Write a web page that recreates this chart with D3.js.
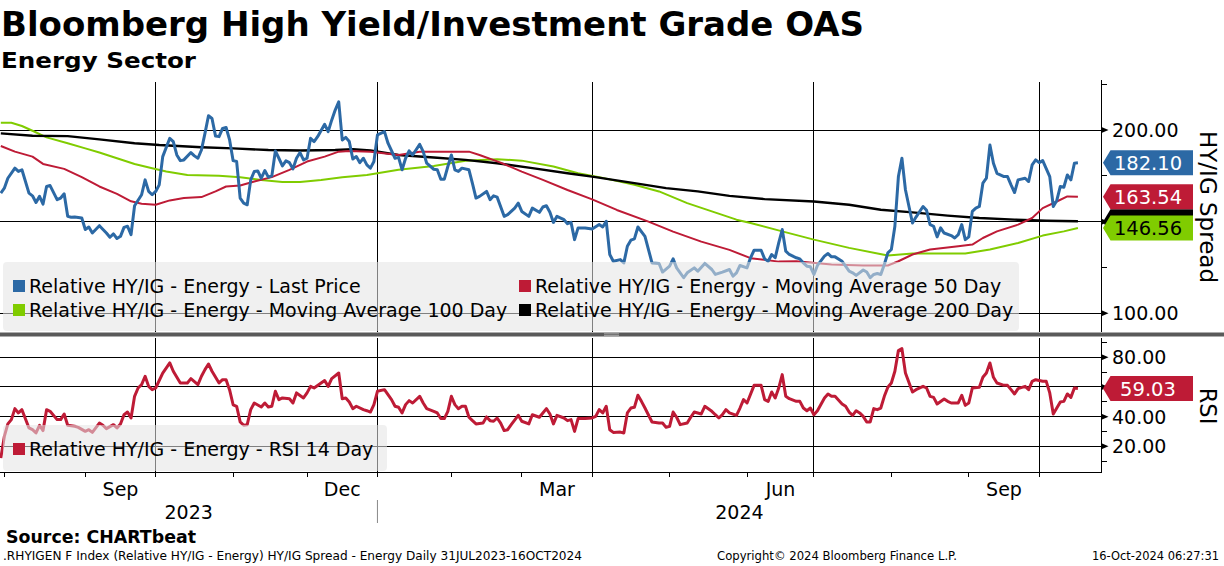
<!DOCTYPE html>
<html><head><meta charset="utf-8">
<script src="https://cdn.jsdelivr.net/npm/d3@7/dist/d3.min.js"></script>
<style>body{margin:0;background:#fff;overflow:hidden}svg{display:block;font-family:"DejaVu Sans",Verdana,sans-serif}</style>
</head><body><svg id="c" width="1224" height="566"></svg>
<script>
// ---------- DATA ----------
const holidays = ["2023-09-04","2023-11-23","2023-12-25","2024-01-01","2024-01-15","2024-02-19","2024-03-29","2024-05-27","2024-06-19","2024-07-04","2024-09-02"];
const calendarStart = "2023-07-31", calendarEnd = "2024-10-31";

const lastPrice = [
["2023-07-31",165.6],["2023-08-01",168.3],["2023-08-02",173.7],["2023-08-04",179.2],["2023-08-07",177.4],["2023-08-08",178.3],["2023-08-10",165.6],["2023-08-11",164.1],["2023-08-14",160.5],["2023-08-15",163.8],["2023-08-16",159.6],["2023-08-17",169.2],["2023-08-18",169.7],["2023-08-22",162],["2023-08-23",162.9],["2023-08-24",165.2],["2023-08-25",152.9],["2023-08-28",152.4],["2023-08-29",152.5],["2023-08-31",152],
["2023-09-01",145.7],["2023-09-05",147.1],["2023-09-06",143.8],["2023-09-08",147.8],["2023-09-12",143.8],["2023-09-13",141.5],["2023-09-14",143.3],["2023-09-15",140.8],["2023-09-18",142],["2023-09-19",146.9],["2023-09-20",147.5],["2023-09-21",142.9],["2023-09-22",158.7],["2023-09-26",164.7],["2023-09-27",172.8],["2023-09-28",166.5],["2023-09-29",164.7],
["2023-10-02",166.5],["2023-10-03",170.1],["2023-10-04",185.5],["2023-10-06",195.5],["2023-10-09",193.7],["2023-10-10",186.4],["2023-10-11",183.3],["2023-10-12",183.7],["2023-10-16",187.7],["2023-10-17",185.9],["2023-10-18",184.6],["2023-10-19",189.1],["2023-10-20",198.2],["2023-10-23",207.8],["2023-10-24",206.3],["2023-10-25",196.7],["2023-10-26",196.4],["2023-10-27",200.9],["2023-10-30",201.4],["2023-10-31",194.6],
["2023-11-01",183.3],["2023-11-02",182.8],["2023-11-03",162.9],["2023-11-06",160.1],["2023-11-07",159.2],["2023-11-08",172.8],["2023-11-09",177.4],["2023-11-10",177.7],["2023-11-13",173.7],["2023-11-14",177.9],["2023-11-15",174.3],["2023-11-16",175],["2023-11-17",188.6],["2023-11-20",184.6],["2023-11-21",180.4],["2023-11-22",183.2],["2023-11-24",182.2],["2023-11-27",178.8],["2023-11-28",184.6],["2023-11-29",187.7],["2023-11-30",183.7],
["2023-12-01",184.6],["2023-12-04",195.5],["2023-12-05",193.7],["2023-12-06",196.4],["2023-12-08",203.1],["2023-12-11",199.1],["2023-12-12",205.4],["2023-12-13",210.9],["2023-12-14",215.4],["2023-12-15",194.6],["2023-12-18",196],["2023-12-19",193.7],["2023-12-20",184.2],["2023-12-21",185.5],["2023-12-22",182.2],["2023-12-26",184.6],["2023-12-27",181],["2023-12-28",179.2],["2023-12-29",182.8],
["2024-01-02",197.3],["2024-01-04",199.1],["2024-01-05",192.8],["2024-01-09",184.6],["2024-01-10",185.1],["2024-01-11",178.3],["2024-01-12",184.6],["2024-01-16",188.6],["2024-01-17",186.4],["2024-01-19",192.2],["2024-01-22",188.2],["2024-01-23",181.9],["2024-01-25",178.6],["2024-01-26",178.3],["2024-01-29",173.2],["2024-01-30",173.2],["2024-01-31",180.1],
["2024-02-01",186.4],["2024-02-02",178.3],["2024-02-05",177.4],["2024-02-06",179.2],["2024-02-08",178.3],["2024-02-09",170.7],["2024-02-12",162.9],["2024-02-13",163.8],["2024-02-15",166.5],["2024-02-16",162],["2024-02-20",164.1],["2024-02-21",163.4],["2024-02-23",152.9],["2024-02-26",153.8],["2024-02-28",157.4],["2024-02-29",160.1],
["2024-03-01",155.6],["2024-03-05",152.9],["2024-03-06",157.4],["2024-03-08",155.1],["2024-03-11",158],["2024-03-12",158.7],["2024-03-13",155.1],["2024-03-14",149.6],["2024-03-15",152.9],["2024-03-19",151.1],["2024-03-20",148.9],["2024-03-21",149.6],["2024-03-22",140.2],["2024-03-25",146.6],["2024-03-27",146.6],
["2024-04-01",146],["2024-04-03",148.4],["2024-04-04",147.1],["2024-04-05",150.2],["2024-04-08",132.1],["2024-04-09",128.4],["2024-04-11",129.3],["2024-04-12",127.5],["2024-04-15",136.6],["2024-04-16",139.9],["2024-04-17",140.6],["2024-04-18",147.1],["2024-04-22",142],["2024-04-23",134.8],["2024-04-24",127.5],["2024-04-26",127.2],["2024-04-29",122.5],
["2024-05-01",125.7],["2024-05-02",129.7],["2024-05-03",124.8],["2024-05-07",119.4],["2024-05-08",122.1],["2024-05-10",124.8],["2024-05-13",123],["2024-05-15",127.2],["2024-05-17",123.9],["2024-05-20",121.2],["2024-05-22",122.5],["2024-05-24",123.9],["2024-05-28",120.3],["2024-05-29",122.1],["2024-05-30",126.1],
["2024-06-03",124.8],["2024-06-04",130.3],["2024-06-05",134.4],["2024-06-07",134.4],["2024-06-10",129.7],["2024-06-11",128.4],["2024-06-12",132.1],["2024-06-13",130.3],["2024-06-14",138.4],["2024-06-17",145.7],["2024-06-18",133.9],["2024-06-20",132.1],["2024-06-24",130.3],["2024-06-25",129.7],["2024-06-26",127.5],["2024-06-27",125.7],["2024-06-28",125.4],
["2024-07-01",121.2],["2024-07-02",126.1],["2024-07-05",131.2],["2024-07-08",132.6],["2024-07-09",130.8],["2024-07-10",130.8],["2024-07-12",128.4],["2024-07-15",125.7],["2024-07-16",123],["2024-07-17",122.1],["2024-07-18",120.7],["2024-07-22",123.6],["2024-07-23",122.5],["2024-07-24",119.4],["2024-07-25",121.2],["2024-07-26",121.7],["2024-07-29",121.2],["2024-07-30",126.6],["2024-07-31",133],
["2024-08-01",134.8],["2024-08-02",147.5],["2024-08-05",174.6],["2024-08-06",184.6],["2024-08-07",167.4],["2024-08-09",149.3],["2024-08-12",152.5],["2024-08-14",158.3],["2024-08-15",156.2],["2024-08-16",148.4],["2024-08-19",147.5],["2024-08-20",141.7],["2024-08-21",146.6],["2024-08-22",143.8],["2024-08-26",142.4],["2024-08-27",141.1],["2024-08-28",142.9],["2024-08-29",148.4],["2024-08-30",140.2],
["2024-09-03",141.7],["2024-09-04",155.6],["2024-09-05",157.4],["2024-09-06",158.3],["2024-09-09",171],["2024-09-10",173.7],["2024-09-11",191.8],["2024-09-12",181.9],["2024-09-13",176.4],["2024-09-17",174.6],["2024-09-18",174.6],["2024-09-19",170.1],["2024-09-20",165.9],["2024-09-23",172.8],["2024-09-25",173.7],["2024-09-26",171.9],["2024-09-27",181],["2024-09-30",183.7],
["2024-10-01",182.2],["2024-10-02",183.3],["2024-10-04",174.6],["2024-10-07",158.3],["2024-10-08",161.6],["2024-10-09",169.2],["2024-10-10",168.8],["2024-10-11",175.5],["2024-10-14",172.8],["2024-10-15",181.9],["2024-10-16",182.1]
];

const ma50 = [
["2023-07-31",191.3],["2023-08-04",188.2],["2023-08-11",185.5],["2023-08-16",181.5],["2023-08-24",178.8],["2023-08-31",174.3],["2023-09-08",169.2],["2023-09-15",165.2],["2023-09-21",161.1],["2023-09-26",159.8],["2023-10-02",159.2],["2023-10-06",161.6],["2023-10-12",162.9],["2023-10-19",163.4],["2023-10-25",166.5],["2023-10-30",169.2],["2023-11-03",169.7],["2023-11-09",171.9],["2023-11-16",174.3],["2023-11-24",178.3],["2023-12-01",182.8],["2023-12-08",185.5],["2023-12-14",188.2],["2023-12-19",188.6],["2023-12-28",188.2],
["2024-01-10",186.4],["2024-01-19",188.2],["2024-02-08",188.2],["2024-02-13",186.4],["2024-02-22",182.2],["2024-03-01",177.3],["2024-03-11",172.8],["2024-03-20",167.3],["2024-04-01",162.2],["2024-04-10",156.4],["2024-04-23",150],["2024-05-02",144.6],["2024-05-14",139.1],["2024-05-24",134.6],["2024-06-04",130.1],["2024-06-14",128.2],["2024-06-24",128.4],["2024-07-09",126.6],["2024-07-22",126.1],["2024-07-31",126.1],
["2024-08-05",128.4],["2024-08-09",132.1],["2024-08-16",134.8],["2024-08-28",136.6],["2024-09-04",137.5],["2024-09-09",141.1],["2024-09-13",144.7],["2024-09-23",148.4],["2024-09-27",152],["2024-10-02",157.4],["2024-10-08",161],["2024-10-11",163.8],["2024-10-16",163.54]
];

const ma100 = [
["2023-07-31",204],["2023-08-03",204],["2023-08-08",202.2],["2023-08-11",199.6],["2023-08-17",196],["2023-08-25",192.8],["2023-09-01",190],["2023-09-08",187.7],["2023-09-15",184.6],["2023-09-22",181.5],["2023-09-29",179.2],["2023-10-05",177.4],["2023-10-13",175.5],["2023-10-26",175],["2023-11-03",174.3],["2023-11-13",172.8],["2023-11-21",171.7],["2023-11-29",171.7],["2023-12-07",172.8],["2023-12-15",174.3],["2023-12-27",175.5],
["2024-01-10",178.3],["2024-01-25",180.4],["2024-02-07",183.3],["2024-02-21",184.1],["2024-03-01",183.3],["2024-03-14",180.1],["2024-03-25",176.4],["2024-04-03",174.3],["2024-04-17",170.1],["2024-04-26",166.5],["2024-05-08",160.1],["2024-05-17",155.6],["2024-05-29",151.1],["2024-06-04",149.3],["2024-06-17",144.7],["2024-07-01",140.2],["2024-07-16",135.7],["2024-07-31",131.5],
["2024-08-09",132.6],["2024-08-30",132.6],["2024-09-11",134.8],["2024-09-23",138.4],["2024-10-02",142.4],["2024-10-10",144.7],["2024-10-16",146.56]
];

const ma200 = [
["2023-07-31",198.2],["2023-08-11",196.9],["2023-08-25",196.7],["2023-09-08",194.9],["2023-09-22",192.8],["2023-10-03",191.8],["2023-10-19",190.6],["2023-11-01",190],["2023-11-15",189.1],["2023-11-29",188.8],["2023-12-13",189.1],["2023-12-20",189.5],["2023-12-28",188.8],
["2024-01-10",186.4],["2024-01-25",185],["2024-02-07",183.7],["2024-02-21",181.9],["2024-03-06",179.2],["2024-03-20",176.4],["2024-04-01",174.6],["2024-04-17",171],["2024-04-30",168.3],["2024-05-13",166.5],["2024-05-24",164.1],["2024-06-10",162.3],["2024-07-01",161],["2024-07-16",159.2],["2024-07-29",156.5],["2024-08-09",155.1],["2024-08-23",153.3],["2024-09-06",152],["2024-09-20",151.1],["2024-10-03",150.5],["2024-10-16",150.2]
];

const rsi14 = [
["2023-07-31",12.1],["2023-08-01",26.7],["2023-08-02",35.1],["2023-08-03",38],["2023-08-04",45.4],["2023-08-07",42.5],["2023-08-08",44.7],["2023-08-10",32.4],["2023-08-11",31.2],["2023-08-14",29],["2023-08-15",34.2],["2023-08-16",30.6],["2023-08-17",44.7],["2023-08-18",43.6],["2023-08-22",38],["2023-08-23",38],["2023-08-24",41.8],["2023-08-25",34.2],["2023-08-29",33.5],["2023-08-30",32.8],
["2023-09-01",30.1],["2023-09-05",31.2],["2023-09-06",29.4],["2023-09-08",35.7],["2023-09-11",34.2],["2023-09-12",31.9],["2023-09-14",34.6],["2023-09-15",32.4],["2023-09-18",35.1],["2023-09-19",41.3],["2023-09-20",43.1],["2023-09-21",39.1],["2023-09-22",53.7],["2023-09-25",59.3],["2023-09-26",61.6],["2023-09-27",67.2],["2023-09-28",60.4],["2023-09-29",58.2],
["2023-10-02",59.3],["2023-10-04",69.4],["2023-10-06",76.2],["2023-10-09",70.6],["2023-10-11",62.7],["2023-10-13",62.7],["2023-10-16",65.6],["2023-10-18",61.6],["2023-10-19",67.2],["2023-10-20",71.7],["2023-10-23",75.5],["2023-10-24",70.6],["2023-10-26",62.7],["2023-10-27",64.9],["2023-10-30",64.9],["2023-10-31",58],
["2023-11-01",48],["2023-11-02",47],["2023-11-03",36.5],["2023-11-06",34.2],["2023-11-07",34.6],["2023-11-08",44.7],["2023-11-09",49.2],["2023-11-13",46.5],["2023-11-14",49.2],["2023-11-15",46.5],["2023-11-16",47],["2023-11-17",57.1],["2023-11-20",51.5],["2023-11-21",52.6],["2023-11-24",52.1],["2023-11-27",49.2],["2023-11-28",56],["2023-11-30",52.6],
["2023-12-01",56],["2023-12-04",60.4],["2023-12-05",59.3],["2023-12-08",64.3],["2023-12-11",60.4],["2023-12-12",65.6],["2023-12-14",69.4],["2023-12-15",52.1],["2023-12-18",52.6],["2023-12-19",49.9],["2023-12-20",45.4],["2023-12-21",47],["2023-12-26",44.7],["2023-12-27",44],["2023-12-28",43.1],["2023-12-29",48.1],
["2024-01-02",57.1],["2024-01-04",58.2],["2024-01-08",51.5],["2024-01-09",47],["2024-01-10",46.3],["2024-01-11",42.5],["2024-01-12",48.1],["2024-01-16",50.8],["2024-01-17",49.2],["2024-01-19",53.7],["2024-01-22",49.2],["2024-01-23",45.4],["2024-01-25",43.6],["2024-01-26",42.5],["2024-01-29",38.7],["2024-01-30",38.7],["2024-01-31",43.6],
["2024-02-01",53.7],["2024-02-02",48.1],["2024-02-05",45.4],["2024-02-06",47],["2024-02-07",47],["2024-02-08",39.6],["2024-02-09",37.3],["2024-02-12",35.1],["2024-02-14",35.7],["2024-02-15",39.8],["2024-02-16",37.3],["2024-02-20",36.9],["2024-02-21",39.1],["2024-02-22",35.7],["2024-02-23",30.6],["2024-02-26",31.2],["2024-02-27",34.6],["2024-02-29",40.9],
["2024-03-01",36.9],["2024-03-05",35.1],["2024-03-06",41.3],["2024-03-08",39.6],["2024-03-11",42.5],["2024-03-12",45.4],["2024-03-13",41.8],["2024-03-14",35.1],["2024-03-15",40.9],["2024-03-19",39.1],["2024-03-20",37.3],["2024-03-21",38],["2024-03-22",30.1],["2024-03-25",38.7],["2024-03-27",38.7],
["2024-04-01",39.1],["2024-04-02",40.2],["2024-04-03",44.7],["2024-04-04",42.5],["2024-04-05",47],["2024-04-08",31.2],["2024-04-09",29.4],["2024-04-11",29.6],["2024-04-12",29],["2024-04-15",42.5],["2024-04-16",45.8],["2024-04-17",46.3],["2024-04-18",54.4],["2024-04-19",50.3],["2024-04-22",45.8],["2024-04-24",36.4],["2024-04-26",35.7],["2024-04-29",35.7],["2024-04-30",32.8],
["2024-05-01",33.5],["2024-05-02",43.1],["2024-05-03",39.6],["2024-05-06",34.6],["2024-05-08",35.7],["2024-05-09",39.6],["2024-05-10",43.1],["2024-05-14",41.8],["2024-05-15",47],["2024-05-17",43.6],["2024-05-20",41.3],["2024-05-21",39.1],["2024-05-22",41.3],["2024-05-23",44.7],["2024-05-24",42.5],["2024-05-29",40.9],["2024-05-30",45.8],["2024-05-31",51.5],
["2024-06-03",49.2],["2024-06-05",61.1],["2024-06-07",61.1],["2024-06-10",51.5],["2024-06-11",50.3],["2024-06-12",56.6],["2024-06-13",52.6],["2024-06-14",59.3],["2024-06-17",68.3],["2024-06-18",53.7],["2024-06-20",52.1],["2024-06-24",50.3],["2024-06-25",50.3],["2024-06-26",45.8],["2024-06-27",44],["2024-06-28",45.8],
["2024-07-01",41.3],["2024-07-02",44],["2024-07-05",52.6],["2024-07-08",55.3],["2024-07-09",53.7],["2024-07-10",53.7],["2024-07-12",48.5],["2024-07-15",47],["2024-07-16",43.1],["2024-07-17",40.9],["2024-07-18",44],["2024-07-19",42.5],["2024-07-22",40.2],["2024-07-23",36.4],["2024-07-24",36.4],["2024-07-25",45.4],["2024-07-26",44.7],["2024-07-29",45.8],["2024-07-30",53.7],["2024-07-31",59.8],
["2024-08-01",62.7],["2024-08-02",70.6],["2024-08-05",84.5],["2024-08-06",85.8],["2024-08-07",69.4],["2024-08-09",56.6],["2024-08-12",58.2],["2024-08-14",60.4],["2024-08-15",59.3],["2024-08-16",53.7],["2024-08-19",53],["2024-08-20",48.5],["2024-08-22",51.9],["2024-08-23",50.3],["2024-08-26",49.2],["2024-08-28",49.2],["2024-08-29",54.4],["2024-08-30",47.6],
["2024-09-03",49.2],["2024-09-04",59.3],["2024-09-06",59.8],["2024-09-09",66.5],["2024-09-10",69.4],["2024-09-11",76.2],["2024-09-12",66.5],["2024-09-13",62.7],["2024-09-17",61.1],["2024-09-18",61.1],["2024-09-19",58.2],["2024-09-20",55.3],["2024-09-23",58.9],["2024-09-25",60.4],["2024-09-26",58.2],["2024-09-27",63.8],["2024-09-30",64.9],
["2024-10-02",63.8],["2024-10-03",63.8],["2024-10-04",56],["2024-10-07",41.8],["2024-10-08",45.8],["2024-10-09",49.9],["2024-10-10",50.3],["2024-10-11",55.3],["2024-10-14",53],["2024-10-15",59.3],["2024-10-16",59.03]
];

const lastValues = [
  {key:"ma200", value:150.02, label:""},
  {key:"ma50", value:163.54, label:"163.54"},
  {key:"ma100", value:146.56, label:"146.56"},
  {key:"price", value:182.10, label:"182.10"}
];
const rsiLast = 59.03;

const spreadMajor = [100,150,200];
const spreadMinor = [125,175,225];
const spreadLabelTicks = [100,200];
const rsiMajor = [20,40,60,80];
const rsiMinor = [10,30,50,70,90];
const rsiLabelTicks = [20,40,80];
const monthLabels = [["Sep","2023-09"],["Dec","2023-12"],["Mar","2024-03"],["Jun","2024-06"],["Sep","2024-09"]];
const quarterLines = ["2023-10","2024-01","2024-04","2024-07","2024-10"];
const yearLabels = ["2023","2024"];
const legendTop = [
  {key:"price", text:"Relative HY/IG - Energy - Last Price"},
  {key:"ma50", text:"Relative HY/IG - Energy - Moving Average 50 Day"},
  {key:"ma100", text:"Relative HY/IG - Energy - Moving Average 100 Day"},
  {key:"ma200", text:"Relative HY/IG - Energy - Moving Average 200 Day"}
];
const legendBottom = [{key:"rsi", text:"Relative HY/IG - Energy - RSI 14 Day"}];

// ---------- STYLE ----------
const colors = {price:"#2c69a5", ma50:"#be1b36", ma100:"#80cc00", ma200:"#000000", rsi:"#be1b36"};
const widths = {price:3, ma50:2, ma100:2, ma200:2.4, rsi:3};

// ---------- TRADING CALENDAR ----------
const parse = d3.utcParse("%Y-%m-%d");
const fmt = d3.utcFormat("%Y-%m-%d");
const hol = new Set(holidays);
const tradingDays = d3.utcDays(parse(calendarStart), d3.utcDay.offset(parse(calendarEnd),1))
  .filter(d => d.getUTCDay()!==0 && d.getUTCDay()!==6 && !hol.has(fmt(d)));
const idxOf = new Map(tradingDays.map((d,i)=>[fmt(d),i]));
const firstOfMonth = ym => tradingDays.findIndex(d => fmt(d).slice(0,7) === ym);
const nextMonth = ym => { const d = parse(ym+"-01"); return fmt(d3.utcMonth.offset(d,1)).slice(0,7); };

// ---------- LAYOUT ----------
const plotL = 0, plotR = 1101.5;
const topY0 = 80, topY1 = 332, botY0 = 338, botY1 = 472;
const x = d3.scaleLinear().domain([-0.23, 312.7]).range([plotL, plotR]);
const y = d3.scaleLinear().domain([89.8, 227.3]).range([topY1, topY0]);
const yr = d3.scaleLinear().domain([2.7, 93]).range([botY1, botY0]);

const svg = d3.select("#c");
svg.append("rect").attr("width",1224).attr("height",566).attr("fill","#fff");
const defs = svg.append("defs");
defs.append("clipPath").attr("id","clipTop").append("rect").attr("x",plotL).attr("y",topY0).attr("width",plotR-plotL).attr("height",topY1-topY0);
defs.append("clipPath").attr("id","clipBot").append("rect").attr("x",plotL).attr("y",botY0).attr("width",plotR-plotL).attr("height",botY1-botY0);

function fitText(t, w){ t.attr("textLength", w).attr("lengthAdjust","spacingAndGlyphs"); }

// Titles
fitText(svg.append("text").attr("x",1).attr("y",36).attr("font-size",33).attr("font-weight","bold").text("Bloomberg High Yield/Investment Grade OAS"), 863);
fitText(svg.append("text").attr("x",1).attr("y",68).attr("font-size",22).attr("font-weight","bold").text("Energy Sector"), 195);

// Grid
const grid = svg.append("g").attr("stroke","#000").attr("stroke-width",1).attr("shape-rendering","crispEdges");
spreadMajor.forEach(v => grid.append("line").attr("x1",plotL).attr("x2",plotR).attr("y1",y(v)).attr("y2",y(v)));
rsiMajor.forEach(v => grid.append("line").attr("x1",plotL).attr("x2",plotR).attr("y1",yr(v)).attr("y2",yr(v)));
quarterLines.forEach(q => {
  const xx = x(firstOfMonth(q));
  grid.append("line").attr("x1",xx).attr("x2",xx).attr("y1",topY0+2).attr("y2",topY1);
  grid.append("line").attr("x1",xx).attr("x2",xx).attr("y1",botY0).attr("y2",botY1+5);
});

// Lines
const line = (ys) => d3.line().x(d => x(idxOf.get(d[0]))).y(d => ys(d[1]));
const gTop = svg.append("g").attr("clip-path","url(#clipTop)").attr("fill","none").attr("stroke-linejoin","round");
[["ma100",ma100],["ma200",ma200],["ma50",ma50],["price",lastPrice]].forEach(([k,data]) => {
  gTop.append("path").datum(data).attr("d", line(y)).attr("stroke",colors[k]).attr("stroke-width",widths[k]);
});
const gBot = svg.append("g").attr("clip-path","url(#clipBot)").attr("fill","none").attr("stroke-linejoin","round");
gBot.append("path").datum(rsi14).attr("d", line(yr)).attr("stroke",colors.rsi).attr("stroke-width",widths.rsi);

// Legends (semi-transparent panels)
function legendBox(x0,y0,w,h){ svg.append("rect").attr("x",x0).attr("y",y0).attr("width",w).attr("height",h).attr("rx",4).attr("fill","#e4e4e4").attr("fill-opacity",0.56); }
legendBox(3,262,1016,69);
legendBox(3,425,384,46);
const legPos = [[13,293],[519,293],[13,317],[519,317]];
legendTop.forEach((l,i) => {
  const [lx,ly] = legPos[i];
  svg.append("rect").attr("x",lx).attr("y",ly-13).attr("width",12).attr("height",12).attr("fill",colors[l.key]);
  svg.append("text").attr("x",lx+16).attr("y",ly).attr("font-size",19).attr("fill","#000").text(l.text);
});
legendBottom.forEach(l => {
  svg.append("rect").attr("x",13).attr("y",456-13).attr("width",12).attr("height",12).attr("fill",colors[l.key]);
  svg.append("text").attr("x",29).attr("y",456).attr("font-size",19).attr("fill","#000").text(l.text);
});

// Separator between panels
svg.append("rect").attr("x",0).attr("y",332.5).attr("width",1224).attr("height",4).attr("fill","#5a5a5a");
svg.append("line").attr("x1",604).attr("x2",619).attr("y1",333.8).attr("y2",333.8).attr("stroke","#b8b8b8").attr("stroke-width",0.8);
svg.append("line").attr("x1",604).attr("x2",619).attr("y1",335.4).attr("y2",335.4).attr("stroke","#b8b8b8").attr("stroke-width",0.8);

// Right axes
const ax = svg.append("g").attr("stroke","#000").attr("stroke-width",1).attr("shape-rendering","crispEdges");
ax.append("line").attr("x1",plotR).attr("x2",plotR).attr("y1",topY0).attr("y2",topY1);
ax.append("line").attr("x1",plotR).attr("x2",plotR).attr("y1",botY0).attr("y2",botY1);
ax.append("line").attr("x1",plotL).attr("x2",plotR).attr("y1",botY1).attr("y2",botY1);
spreadMinor.forEach(v => ax.append("line").attr("x1",plotR).attr("x2",plotR+5).attr("y1",y(v)).attr("y2",y(v)));
rsiMinor.forEach(v => ax.append("line").attr("x1",plotR).attr("x2",plotR+5).attr("y1",yr(v)).attr("y2",yr(v)));
function arrow(yy){ svg.append("path").attr("d",`M${plotR},${yy-3}L${plotR+7},${yy}L${plotR},${yy+3}Z`).attr("fill","#000"); }
spreadMajor.forEach(v => arrow(y(v)));
rsiMajor.forEach(v => arrow(yr(v)));
const nf = d3.format(".2f");
spreadLabelTicks.forEach(v => svg.append("text").attr("x",1112).attr("y",y(v)+7).attr("font-size",19).text(nf(v)));
rsiLabelTicks.forEach(v => svg.append("text").attr("x",1112).attr("y",yr(v)+7).attr("font-size",19).text(nf(v)));

// Axis titles
svg.append("text").attr("transform",`translate(1200,207) rotate(90)`).attr("text-anchor","middle").attr("font-size",23).text("HY/IG Spread");
svg.append("text").attr("transform",`translate(1200,406) rotate(90)`).attr("text-anchor","middle").attr("font-size",22.5).text("RSI");

// Value tags
function tag(yy, fill, txtColor, label){
  svg.append("path").attr("d",`M${plotR+1.5},${yy}L${plotR+9},${yy-12.5}L1193,${yy-12.5}L1193,${yy+12.5}L${plotR+9},${yy+12.5}Z`).attr("fill",fill);
  if(label) svg.append("text").attr("x",1148).attr("y",yy+7.3).attr("text-anchor","middle").attr("font-size",19.5).attr("fill",txtColor).text(label);
}
lastValues.forEach(d => tag(y(d.value), colors[d.key], d.key==="ma100" ? "#000" : "#fff", d.label));
tag(yr(rsiLast), colors.rsi, "#fff", nf(rsiLast));

// X axis: month ticks and labels
const months = d3.utcMonths(parse("2023-08-01"), parse("2024-11-01")).map(d => fmt(d).slice(0,7));
months.forEach(m => { const i = firstOfMonth(m); if(i>=0 && x(i)<=plotR) ax.append("line").attr("x1",x(i)).attr("x2",x(i)).attr("y1",botY1).attr("y2",botY1+5); });
monthLabels.forEach(([lab,ym]) => {
  const cx = (x(firstOfMonth(ym)) + x(firstOfMonth(nextMonth(ym))))/2;
  svg.append("text").attr("x",cx).attr("y",496).attr("text-anchor","middle").attr("font-size",19).text(lab);
});
const yearSplit = x(firstOfMonth("2024-01"));
svg.append("line").attr("x1",yearSplit).attr("x2",yearSplit).attr("y1",500).attr("y2",523).attr("stroke","#888").attr("stroke-width",1);
svg.append("text").attr("x",(plotL+yearSplit)/2).attr("y",519).attr("text-anchor","middle").attr("font-size",19).text(yearLabels[0]);
svg.append("text").attr("x",(yearSplit+plotR)/2).attr("y",519).attr("text-anchor","middle").attr("font-size",19).text(yearLabels[1]);

// Footer
fitText(svg.append("text").attr("x",6).attr("y",543).attr("font-size",17).attr("font-weight","bold").text("Source: CHARTbeat"), 190);
fitText(svg.append("text").attr("x",3).attr("y",560).attr("font-size",12).text(".RHYIGEN F Index (Relative HY/IG - Energy) HY/IG Spread - Energy  Daily 31JUL2023-16OCT2024"), 579);
fitText(svg.append("text").attr("x",717).attr("y",560).attr("font-size",12).text("Copyright\u00a9 2024 Bloomberg Finance L.P."), 240);
fitText(svg.append("text").attr("x",1092).attr("y",560).attr("font-size",12).text("16-Oct-2024 06:27:31"), 127);
</script></body></html>
